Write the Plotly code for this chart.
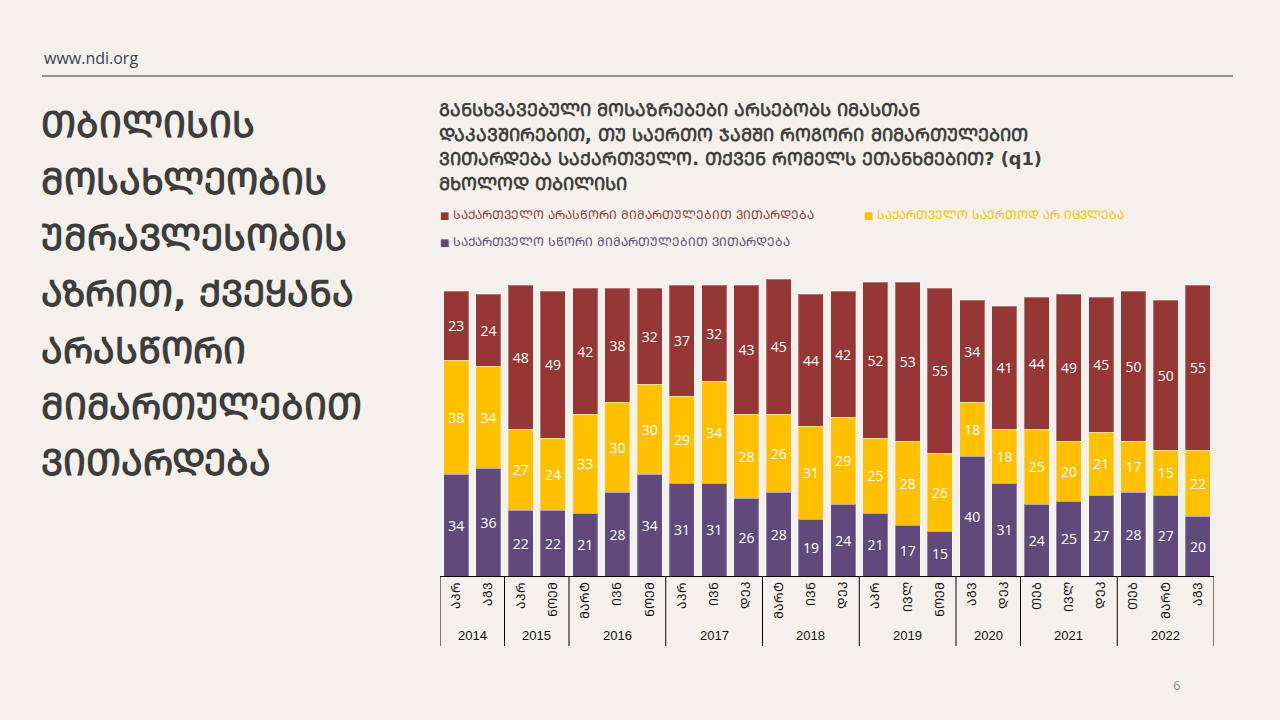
import plotly.graph_objects as go

# ── data ─────────────────────────────────────────────────────────────────────
year_groups = ["2014", "2015", "2016", "2017", "2018", "2019", "2020", "2021", "2022"]
year_sizes = [2, 2, 3, 3, 3, 3, 2, 3, 3]
months = ["აპრ", "აგვ", "აპრ", "ნოემ", "მარტ", "ივნ", "ნოემ", "აპრ", "ივნ", "დეკ",
          "მარტ", "ივნ", "დეკ", "აპრ", "ივლ", "ნოემ", "აგვ", "დეკ", "თებ", "ივლ",
          "დეკ", "თებ", "მარტ", "აგვ"]

wrong_dir = [23, 24, 48, 49, 42, 38, 32, 37, 32, 43, 45, 44, 42, 52, 53, 55, 34, 41, 44, 49, 45, 50, 50, 55]
no_change = [38, 34, 27, 24, 33, 30, 30, 29, 34, 28, 26, 31, 29, 25, 28, 26, 18, 18, 25, 20, 21, 17, 15, 22]
right_dir = [34, 36, 22, 22, 21, 28, 34, 31, 31, 26, 28, 19, 24, 21, 17, 15, 40, 31, 24, 25, 27, 28, 27, 20]

series = [
    ("საქართველო სწორი მიმართულებით ვითარდება", right_dir, "#604A7B"),
    ("საქართველო საერთოდ არ იცვლება", no_change, "#FFC000"),
    ("საქართველო არასწორი მიმართულებით ვითარდება", wrong_dir, "#953735"),
]

title_lines = ["თბილისის", "მოსახლეობის", "უმრავლესობის", "აზრით, ქვეყანა",
               "არასწორი", "მიმართულებით", "ვითარდება"]
subtitle_lines = ["განსხვავებული მოსაზრებები არსებობს იმასთან",
                  "დაკავშირებით, თუ საერთო ჯამში როგორი მიმართულებით",
                  "ვითარდება საქართველო. თქვენ რომელს ეთანხმებით? (q1)",
                  "მხოლოდ თბილისი"]

BG = "#F4F1EC"
GEO = "DejaVu Sans"

# plot area in pixels
L, R, T, B = 440, 1214, 276, 576


def px(x):
    return (x - L) / (R - L)


def py(y):
    return (B - y) / (B - T)


def caps(s):
    # georgian letters only -> mtavruli, latin stays as is
    return "".join(c.upper() if "\u10d0" <= c <= "\u10ff" else c for c in s)


idx = list(range(len(months)))

fig = go.Figure()
for name, vals, col in series:
    fig.add_trace(go.Bar(
        x=idx, y=vals, name=name,
        marker=dict(color=col, line=dict(color="rgba(255,255,255,0.3)", width=1)),
        text=vals, textposition="inside", insidetextanchor="middle",
        textfont=dict(color="white", size=14, family="Open Sans"),
        showlegend=False,
    ))


def note(x, y, text, size, color, family=GEO, xanchor="left"):
    return dict(xref="paper", yref="paper", x=px(x), y=py(y), text=text, showarrow=False,
                xanchor=xanchor, yanchor="middle", font=dict(family=family, size=size, color=color))


ann = [
    note(42, 58, "www.ndi.org", 16, "#3B4252", family="Open Sans"),
    note(1176, 685, "6", 13, "#8A8A8A", family="Open Sans", xanchor="center"),
]

for i, line in enumerate(title_lines):
    ann.append(note(39, 125 + i * 56.3, "<b>" + caps(line) + "</b>", 36, "#3D3D3D"))

for i, line in enumerate(subtitle_lines):
    ann.append(note(437, 110 + i * 24.5, "<b>" + caps(line) + "</b>", 17.7, "#404040"))

legend_pos = [(438, 215), (862, 215), (438, 242)]
for (name, vals, col), (lx, ly) in zip(series[::-1], legend_pos):
    ann.append(note(lx, ly, "<span style='font-size:10px'>■</span> " + caps(name), 12.1, col))

# year labels and group dividers below the axis
shapes = [dict(type="line", xref="paper", yref="paper", x0=px(42), x1=px(1233),
               y0=py(76), y1=py(76), line=dict(color="#333333", width=1))]
start = 0
bounds = [-0.5]
for yr, n in zip(year_groups, year_sizes):
    ann.append(dict(xref="x", yref="paper", x=start + (n - 1) / 2, y=py(635), text=yr,
                    showarrow=False, xanchor="center", yanchor="middle",
                    font=dict(family="Liberation Sans", size=13, color="#111")))
    start += n
    bounds.append(start - 0.5)
for b in bounds:
    shapes.append(dict(type="line", xref="x", yref="paper", x0=b, x1=b,
                       y0=py(576), y1=py(646), line=dict(color="#000", width=1)))

fig.update_layout(
    barmode="stack", bargap=0.22,
    width=1280, height=720,
    margin=dict(l=L, r=1280 - R, t=T, b=720 - B),
    paper_bgcolor=BG, plot_bgcolor=BG,
    annotations=ann, shapes=shapes,
    xaxis=dict(range=[-0.5, len(months) - 0.5], tickmode="array", tickvals=idx,
               ticktext=[caps(m) for m in months], tickangle=-90,
               showline=True, linecolor="#000", linewidth=1,
               tickfont=dict(family=GEO, size=12.5, color="#111"),
               ticks="", showgrid=False, zeroline=False),
    yaxis=dict(range=[0, 100], visible=False, showgrid=False),
)

fig.write_html("out.html", config={"displayModeBar": False},
               post_script="document.body.style.margin='0';")
